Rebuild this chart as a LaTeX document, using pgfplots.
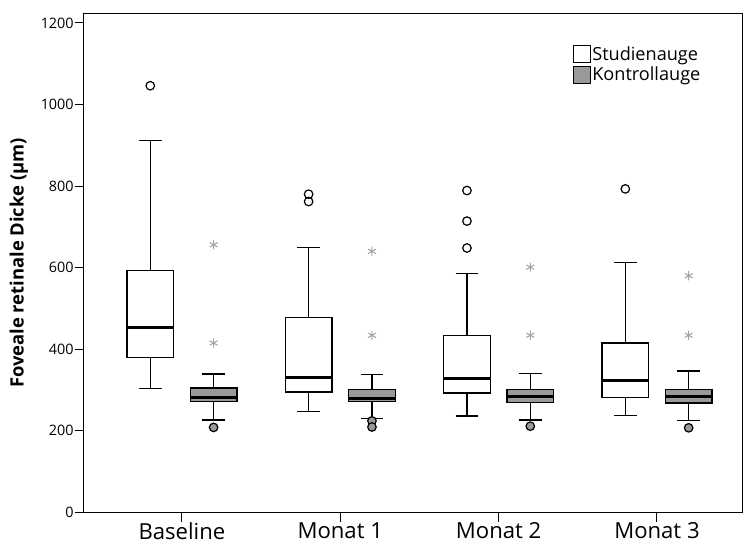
\documentclass[border=0pt]{standalone}
\usepackage{fontspec}
\setmainfont{Open Sans}
\usepackage{pgfplots}
\pgfplotsset{compat=1.18}

\definecolor{boxgray}{gray}{0.6}
\definecolor{stargray}{gray}{0.65}

\begin{document}
\begin{tikzpicture}
\begin{axis}[
  scale only axis,
  width=494pt, height=374pt,
  xmin=0.381, xmax=4.537, ymin=0, ymax=1222,
  xtick={1,2,3,4},
  xticklabels={Baseline, Monat 1, Monat 2, Monat 3},
  ytick={0,200,...,1200},
  xtick pos=bottom, ytick pos=left,
  tick align=outside, major tick length=7pt,
  tick style={black, line width=0.75pt},
  axis line style={line width=0.75pt},
  /pgf/number format/assume math mode=true,
  /pgf/number format/1000 sep={},
  yticklabel style={font=\fontsize{10.8}{12}\selectfont, inner sep=0.5pt},
  xticklabel style={font=\fontsize{16.6}{19}\selectfont, inner sep=0.5pt},
  ylabel={\bfseries Foveale retinale Dicke (µm)},
  every axis y label/.style={at={(rel axis cs:-0.099,0.5)}, rotate=90, anchor=center},
  ylabel style={font=\fontsize{13.8}{16}\selectfont},
  legend style={at={(0.743,0.938)}, anchor=north west, draw=none, fill=none,
    font=\fontsize{13.6}{15}\selectfont, inner sep=0pt, row sep=1.4pt,
    nodes={inner sep=1pt}},
  legend cell align=left,
  legend image code/.code={\draw[#1, line width=0.8pt] (0pt,-6.3pt) rectangle (12.6pt,6.3pt);},
  unbounded coords=jump,
  clip=false,
]
% boxes, Studienauge (white)
\addplot[forget plot, draw=black, fill=white, line width=1pt, line join=miter] coordinates {(0.6525,380) (0.9475,380) (0.9475,593) (0.6525,593)} -- cycle;
\addplot[forget plot, draw=black, fill=white, line width=1pt, line join=miter] coordinates {(1.6525,295) (1.9475,295) (1.9475,477) (1.6525,477)} -- cycle;
\addplot[forget plot, draw=black, fill=white, line width=1pt, line join=miter] coordinates {(2.6525,292) (2.9475,292) (2.9475,434) (2.6525,434)} -- cycle;
\addplot[forget plot, draw=black, fill=white, line width=1pt, line join=miter] coordinates {(3.6525,281) (3.9475,281) (3.9475,415) (3.6525,415)} -- cycle;
% boxes, Kontrollauge (grey)
\addplot[forget plot, draw=black, fill=boxgray, line width=1pt, line join=miter] coordinates {(1.0525,271) (1.3475,271) (1.3475,305) (1.0525,305)} -- cycle;
\addplot[forget plot, draw=black, fill=boxgray, line width=1pt, line join=miter] coordinates {(2.0525,271) (2.3475,271) (2.3475,301) (2.0525,301)} -- cycle;
\addplot[forget plot, draw=black, fill=boxgray, line width=1pt, line join=miter] coordinates {(3.0525,269) (3.3475,269) (3.3475,301) (3.0525,301)} -- cycle;
\addplot[forget plot, draw=black, fill=boxgray, line width=1pt, line join=miter] coordinates {(4.0525,268) (4.3475,268) (4.3475,301) (4.0525,301)} -- cycle;
% whiskers and caps
\addplot[forget plot, draw=black, line width=1pt, mark=none] coordinates {
  (0.8,593) (0.8,911) (nan,nan) (0.7285,911) (0.8715,911) (nan,nan)
  (0.8,380) (0.8,304) (nan,nan) (0.7285,304) (0.8715,304) (nan,nan)
  (1.8,477) (1.8,649) (nan,nan) (1.7285,649) (1.8715,649) (nan,nan)
  (1.8,295) (1.8,247) (nan,nan) (1.7285,247) (1.8715,247) (nan,nan)
  (2.8,434) (2.8,586) (nan,nan) (2.7285,586) (2.8715,586) (nan,nan)
  (2.8,292) (2.8,236) (nan,nan) (2.7285,236) (2.8715,236) (nan,nan)
  (3.8,415) (3.8,613) (nan,nan) (3.7285,613) (3.8715,613) (nan,nan)
  (3.8,281) (3.8,238) (nan,nan) (3.7285,238) (3.8715,238) (nan,nan)
  (1.2,305) (1.2,339) (nan,nan) (1.1285,339) (1.2715,339) (nan,nan)
  (1.2,271) (1.2,226) (nan,nan) (1.1285,226) (1.2715,226) (nan,nan)
  (2.2,301) (2.2,338) (nan,nan) (2.1285,338) (2.2715,338) (nan,nan)
  (2.2,271) (2.2,230) (nan,nan) (2.1285,230) (2.2715,230) (nan,nan)
  (3.2,301) (3.2,341) (nan,nan) (3.1285,341) (3.2715,341) (nan,nan)
  (3.2,269) (3.2,226) (nan,nan) (3.1285,226) (3.2715,226) (nan,nan)
  (4.2,301) (4.2,346) (nan,nan) (4.1285,346) (4.2715,346) (nan,nan)
  (4.2,268) (4.2,225) (nan,nan) (4.1285,225) (4.2715,225)
};
% medians
\addplot[forget plot, draw=black, line width=2.3pt, mark=none] coordinates {
  (0.6525,452) (0.9475,452) (nan,nan) (1.6525,331) (1.9475,331) (nan,nan)
  (2.6525,327) (2.9475,327) (nan,nan) (3.6525,322) (3.9475,322) (nan,nan)
  (1.0525,282) (1.3475,282) (nan,nan) (2.0525,279) (2.3475,279) (nan,nan)
  (3.0525,284) (3.3475,284) (nan,nan) (4.0525,283) (4.3475,283)
};
% outliers
\addplot[forget plot, only marks, mark=o, mark size=3.2pt, mark options={line width=0.9pt, draw=black}]
  coordinates {(0.8,1046) (1.8,780) (1.8,762) (2.8,789) (2.8,714) (2.8,648) (3.8,793)};
\addplot[forget plot, only marks, mark=*, mark size=3.2pt, mark options={line width=0.9pt, draw=black, fill=boxgray}]
  coordinates {(1.2,208) (2.2,224) (2.2,209) (3.2,211) (4.2,207)};
\addplot[forget plot, only marks, mark=asterisk, mark size=3.4pt, mark options={line width=0.8pt, draw=stargray}]
  coordinates {(1.2,656) (1.2,415) (2.2,640) (2.2,434) (3.2,601) (3.2,434) (4.2,580) (4.2,434)};
\addlegendimage{draw=black, fill=white}
\addlegendentry{Studienauge}
\addlegendimage{draw=black, fill=boxgray}
\addlegendentry{Kontrollauge}
\coordinate (bl) at (rel axis cs:0,0);
\coordinate (tr) at (rel axis cs:1,1);
\end{axis}
\pgfresetboundingbox
\path ([xshift=-63pt, yshift=-25.5pt]bl) rectangle ([xshift=2.25pt, yshift=10.5pt]tr);
\end{tikzpicture}
\end{document}
